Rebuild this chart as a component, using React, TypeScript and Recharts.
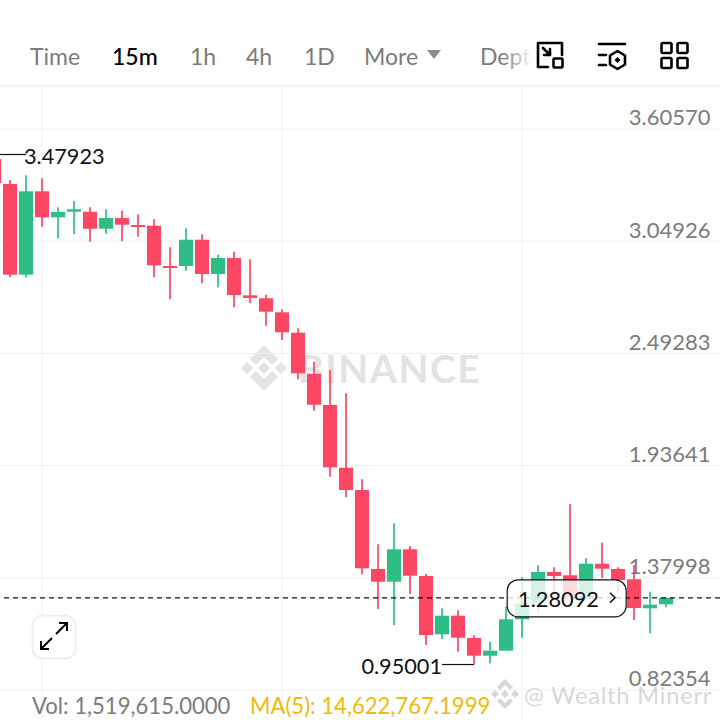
import { ComposedChart, Bar, XAxis, YAxis, CartesianGrid, ReferenceLine, ReferenceDot } from "recharts";

const UP = "#2ebd85";
const DOWN = "#fb4763";
const FONT = "Lato, sans-serif";

// index -1 is the candle cut off by the left edge, the last ones are empty room on the right
const slots = [-1, 0, 1, 2, 3, 4, 5, 6, 7, 8, 9, 10, 11, 12, 13, 14, 15, 16, 17, 18, 19, 20, 21, 22, 23, 24, 25, 26, 27, 28, 29, 30, 31, 32, 33, 34, 35, 36, 37, 38, 39, 40, 41, 42, 43, 44, 45];
const opens = [3.4569, 3.333, 2.8832, 3.2968, 3.1678, 3.1956, 3.1956, 3.1113, 3.1643, 3.1296, 3.1262, 2.9263, 2.9263, 3.0567, 2.8866, 2.966, 2.781, 2.7661, 2.6967, 2.5956, 2.3922, 2.237, 1.9261, 1.8155, 1.4237, 1.3608, 1.5214, 1.389, 1.0999, 1.1922, 1.0816, 0.9938, 1.0186, 1.1743, 1.2536, 1.4089, 1.3925, 1.2784, 1.45, 1.4237, 1.3727, 1.2288, 1.2487];
const closes = [3.3379, 2.8832, 3.2968, 3.1678, 3.1941, 3.2075, 3.1113, 3.1643, 3.1311, 3.1197, 2.9298, 2.9179, 3.0567, 2.8866, 2.966, 2.7825, 2.7676, 2.6997, 2.5975, 2.3942, 2.2385, 1.9281, 1.8155, 1.4272, 1.3608, 1.5214, 1.3905, 1.0964, 1.1922, 1.0831, 0.9938, 1.0186, 1.1743, 1.2536, 1.4089, 1.389, 1.2864, 1.45, 1.4252, 1.3692, 1.2303, 1.2467, 1.28092];
const highs = [3.47923, 3.3528, 3.3761, 3.3612, 3.2174, 3.2487, 3.2174, 3.2075, 3.2006, 3.1827, 3.1579, 3.0191, 3.1133, 3.0835, 2.9824, 2.9972, 2.9595, 2.784, 2.7116, 2.6174, 2.4517, 2.4106, 2.295, 1.8686, 1.5462, 1.6504, 1.5378, 1.3989, 1.2288, 1.2189, 1.095, 1.0632, 1.2368, 1.3826, 1.4421, 1.4322, 1.7461, 1.4768, 1.5542, 1.4322, 1.4436, 1.3112, 1.2834];
const lows = [3.3379, 2.8703, 2.8703, 3.1212, 3.0637, 3.085, 3.0468, 3.0865, 3.0503, 3.0716, 2.8703, 2.7612, 2.903, 2.8405, 2.8207, 2.7215, 2.7413, 2.6303, 2.5594, 2.3645, 2.2087, 1.8815, 1.7793, 1.3975, 1.2254, 1.146, 1.2998, 1.0469, 1.0766, 1.0136, 0.95001, 0.9561, 1.0186, 1.0831, 1.2055, 1.3047, 1.2864, 1.2784, 1.3791, 1.3047, 1.1708, 1.1049, 1.2338];
const priceTicks = [3.6057, 3.04926, 2.49283, 1.93641, 1.37998, 0.82354];
const gridSlots = [2, 17, 32];
const toolbarTabs = [
  { label: "Time", x: 30 },
  { label: "15m", x: 112, active: true },
  { label: "1h", x: 190 },
  { label: "4h", x: 246 },
  { label: "1D", x: 304 },
  { label: "More", x: 364 },
];

const rows = slots.map((slot, i) => ({
  slot,
  open: opens[i],
  close: closes[i],
  range: highs[i] === undefined ? null : [lows[i], highs[i]],
}));

function Candle(props: any) {
  const { x, y, width, height, payload } = props;
  if (payload.open === undefined || !height) return null;
  const perUnit = height / (payload.range[1] - payload.range[0]);
  const top = y + (payload.range[1] - Math.max(payload.open, payload.close)) * perUnit;
  const bodyH = Math.max(Math.abs(payload.open - payload.close) * perUnit, 2);
  const color = payload.close >= payload.open ? UP : DOWN;
  const mid = x + width / 2;
  return (
    <g>
      <rect x={mid - 1} y={y} width={2} height={height} fill={color} opacity={0.85} />
      <rect x={mid - 7} y={top} width={14} height={bodyH} fill={color} />
    </g>
  );
}

function PriceTick(props: any) {
  const { y, payload } = props;
  return (
    <text x={724.6} y={y - 12.2} textAnchor="end" dominantBaseline="central" fontFamily={FONT} fontSize={22} fill="#7b7b7b">
      {payload.value.toFixed(5)}
    </text>
  );
}

function PricePill(props: any) {
  const { cx, cy } = props;
  return (
    <g>
      <rect x={cx - 62.8} y={cy - 18} width={119} height={37} rx={11} fill="rgba(255,255,255,0.8)" stroke="#111" strokeWidth={1.2} />
      <text x={cx - 52} y={cy + 1} dominantBaseline="central" fontFamily={FONT} fontSize={21.8} fill="#111">1.28092</text>
      <path d={`M${cx + 40} ${cy - 5}l5 5l-5 5`} fill="none" stroke="#111" strokeWidth={1.6} />
    </g>
  );
}

function ExtremeLabel(props: any, text: string, anchor: "start" | "end") {
  return (
    <text x={props.cx + (anchor === "start" ? -2 : 0)} y={props.cy + 1} textAnchor={anchor} dominantBaseline="central" fontFamily={FONT} fontSize={21.7} fill="#111">
      {text}
    </text>
  );
}

function Toolbar() {
  return (
    <svg width={720} height={86} style={{ position: "absolute", left: 0, top: 0 }}>
      <defs>
        <linearGradient id="fade" x1="0" x2="1">
          <stop offset="0.45" stopColor="#7b7b7b" />
          <stop offset="1" stopColor="#7b7b7b" stopOpacity={0.05} />
        </linearGradient>
      </defs>
      {toolbarTabs.map((t) => (
        <text key={t.label} x={t.x} y={55.5} dominantBaseline="central" fontFamily={FONT} fontSize={23} fontWeight={t.active ? 500 : 400} fill={t.active ? "#000" : "#7b7b7b"}>
          {t.label}
        </text>
      ))}
      <path d="M427 50h14l-7 9z" fill="#8e8e8e" />
      <text x={480} y={55.5} dominantBaseline="central" fontFamily={FONT} fontSize={23} fill="url(#fade)">Dept</text>
      <g fill="none" stroke="#000" strokeWidth={2.6} strokeLinejoin="round" strokeLinecap="round">
        <path d="M562 55v-12h-24v24h10" />
        <rect x={553.5} y={58.5} width={9} height={9} rx={1} />
        <path d="M543 48l7 7M550 49v6h-6" />
        <path d="M599 44h26M599 55h7M599 65h7" />
        <path d="M617.5 51l7.5 4.5v9l-7.5 4.5l-7.5-4.5v-9z" />
        <rect x={661.5} y={43} width={10} height={10} rx={1.5} />
        <rect x={677.5} y={43} width={10} height={10} rx={1.5} />
        <rect x={661.5} y={58} width={10} height={10} rx={1.5} />
        <rect x={677.5} y={58} width={10} height={10} rx={1.5} />
      </g>
      <path d="M617.5 57l3 3l-3 3l-3-3z" fill="#000" />
    </svg>
  );
}

export default function App() {
  return (
    <div style={{ position: "absolute", left: 0, top: 0, width: 720, height: 720, overflow: "hidden", background: "#fff", fontFamily: FONT }}>
      <div style={{ position: "absolute", left: 0, top: 85, width: 720, height: 2, background: "#f3f3f3" }} />
      {/* watermark sits under the chart */}
      <svg width={720} height={720} style={{ position: "absolute", left: 0, top: 0 }}>
        <g fill="#e3e3e3">
          <path d="M264 345l14 14l-6 6l-8-8l-8 8l-6-6zM264 391l-14-14l6-6l8 8l8-8l6 6zM241 368l6-6l6 6l-6 6zM275 368l6-6l6 6l-6 6zM264 362l6 6l-6 6l-6-6z" />
          <text x={298} y={368} dominantBaseline="central" fontFamily={FONT} fontSize={39} fontWeight={700} letterSpacing={1.5}>BINANCE</text>
        </g>
      </svg>
      <Toolbar />
      <div style={{ position: "absolute", left: -14.4, top: 87 }}>
        <ComposedChart width={752} height={633} data={rows} margin={{ top: 0, right: 0, bottom: 0, left: 0 }} barCategoryGap={0}>
          <CartesianGrid stroke="#f0f0f0" syncWithTicks />
          <XAxis dataKey="slot" type="category" hide ticks={gridSlots} interval={0} />
          <YAxis
            type="number"
            orientation="right"
            mirror
            domain={[0.6749, 3.814]}
            allowDataOverflow
            ticks={priceTicks}
            interval={0}
            axisLine={false}
            tickLine={false}
            tick={PriceTick}
          />
          <Bar dataKey="range" shape={Candle} isAnimationActive={false} />
          <ReferenceLine y={1.28092} stroke="#111" strokeDasharray="5 4" strokeWidth={1.2} />
          <ReferenceLine segment={[{ x: -1, y: 3.47923 }, { x: 1, y: 3.47923 }]} stroke="#111" strokeWidth={1.2} />
          <ReferenceLine segment={[{ x: 27, y: 0.95001 }, { x: 29, y: 0.95001 }]} stroke="#111" strokeWidth={1.2} />
          <ReferenceDot x={1} y={3.47923} shape={(p: any) => ExtremeLabel(p, "3.47923", "start")} />
          <ReferenceDot x={27} y={0.95001} shape={(p: any) => ExtremeLabel(p, "0.95001", "end")} />
          <ReferenceDot x={35} y={1.28092} shape={PricePill} />
        </ComposedChart>
      </div>
      <svg width={46} height={46} style={{ position: "absolute", left: 31, top: 614 }}>
        <rect x={1.5} y={1.5} width={43} height={43} rx={10} fill="#fff" stroke="#efefef" strokeWidth={2} />
        <path d="M25 20l11-11M28 9h8v8M21 24l-11 11M10 27v8h8" fill="none" stroke="#000" strokeWidth={2} />
      </svg>
      <div style={{ position: "absolute", left: 32, top: 692, fontSize: 22.1, lineHeight: "28px", color: "#7b7b7b", whiteSpace: "nowrap" }}>
        Vol: 1,519,615.0000
      </div>
      <div style={{ position: "absolute", left: 250, top: 692, fontSize: 22.1, lineHeight: "28px", color: "#f0b90b", whiteSpace: "nowrap" }}>
        MA(5): 14,622,767.1999
      </div>
      <svg width={240} height={44} style={{ position: "absolute", left: 485, top: 674 }}>
        <g fill="#d8d8d8">
          <path d="M20 5l8 8l-3 3l-5-5l-5 5l-3-3zM20 35l-8-8l3-3l5 5l5-5l3 3zM6 20l4-4l4 4l-4 4zM26 20l4-4l4 4l-4 4zM20 16l4 4l-4 4l-4-4z" />
          <text x={39} y={20.5} dominantBaseline="central" fontFamily={FONT} fontSize={23.6} letterSpacing={0.8}>@ Wealth Minerr</text>
        </g>
      </svg>
    </div>
  );
}
